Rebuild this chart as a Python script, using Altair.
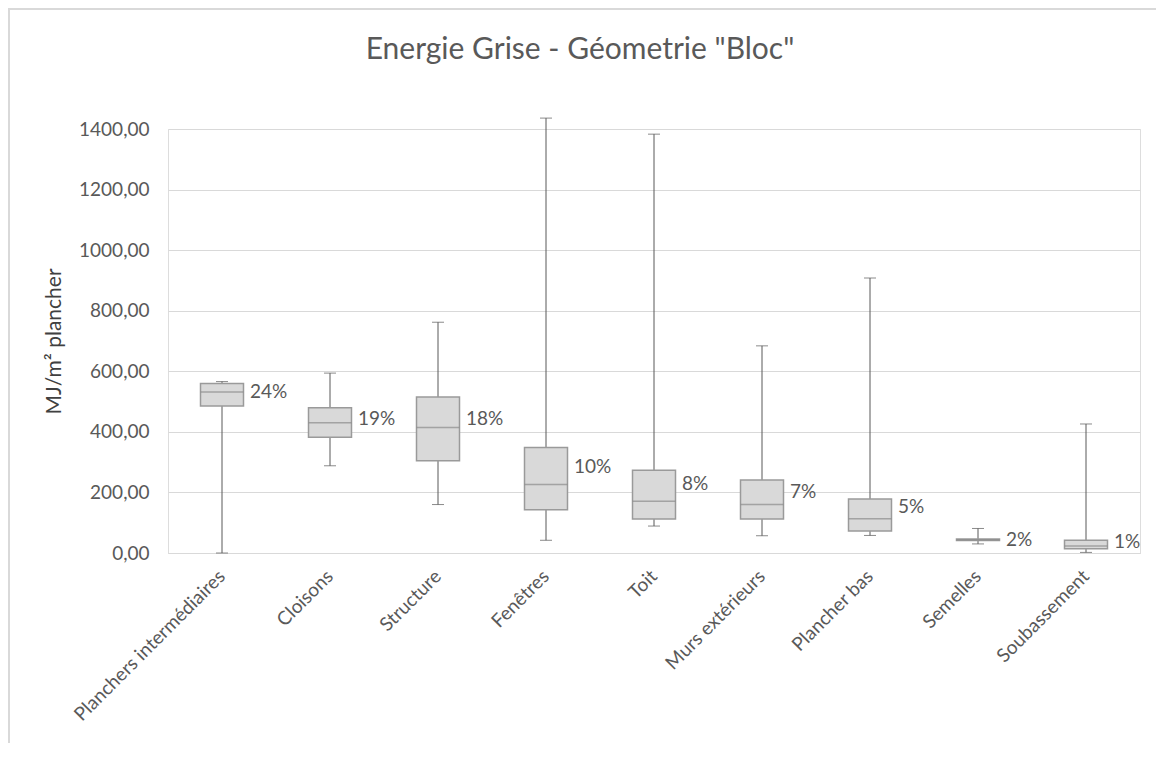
import altair as alt
import pandas as pd

categories = ["Planchers intermédiaires", "Cloisons", "Structure", "Fenêtres", "Toit",
              "Murs extérieurs", "Plancher bas", "Semelles", "Soubassement"]
mins = [0, 288, 160, 42, 89, 57, 58, 30, 2]
q1 = [485, 382, 305, 143, 112, 112, 73, 41, 14]
medians = [532, 430, 414, 226, 171, 160, 113, 44, 23]
q3 = [560, 480, 515, 348, 273, 241, 178, 46, 42]
maxs = [566, 594, 762, 1436, 1383, 684, 908, 81, 426]
shares = ["24%", "19%", "18%", "10%", "8%", "7%", "5%", "2%", "1%"]
label_at = [532, 442, 442, 285, 228, 202, 152, 43, 36]

df = pd.DataFrame({
    "cat": categories, "min": mins, "q1": q1, "med": medians,
    "q3": q3, "max": maxs, "share": shares, "lab": label_at,
})

FONT = "Lato"
x = alt.X("cat:N", sort=categories, title=None,
          scale=alt.Scale(paddingInner=0, paddingOuter=0),
          axis=alt.Axis(labelAngle=-45, labelAlign="right", labelBaseline="middle",
                        labelPadding=20, labelOffset=0, labelFontSize=19, labelFont=FONT,
                        labelColor="#595959", ticks=False, domainColor="#d9d9d9",
                        domainWidth=1, grid=False, labelLimit=400))
yscale = alt.Scale(domain=[0, 1400], nice=False)
yaxis = alt.Axis(values=[0, 200, 400, 600, 800, 1000, 1200, 1400],
                 labelExpr="replace(format(datum.value, '.2f'), '.', ',')",
                 labelFontSize=19, labelFont=FONT, labelColor="#595959", labelPadding=19,
                 ticks=False, domain=False, grid=True, gridColor="#d9d9d9", gridWidth=1,
                 title="MJ/m² plancher", titleFontSize=21, titleFont=FONT,
                 titleColor="#404040", titleFontWeight="normal", titlePadding=14)

base = alt.Chart(df)

whisker = base.mark_rule(color="#595959", strokeWidth=1).encode(
    x=x, y=alt.Y("min:Q", scale=yscale, axis=yaxis), y2="max:Q")
cap_lo = base.mark_tick(color="#595959", size=12, thickness=1, orient="horizontal").encode(
    x=x, y=alt.Y("min:Q"))
cap_hi = base.mark_tick(color="#595959", size=12, thickness=1, orient="horizontal").encode(
    x=x, y=alt.Y("max:Q"))
box = base.mark_bar(size=43, fill="#d9d9d9", stroke="#9a9a9a", strokeWidth=1.5).encode(
    x=x, y=alt.Y("q1:Q"), y2="q3:Q")
median = base.mark_tick(color="#8c8c8c", size=43, thickness=1.5, orient="horizontal").encode(
    x=x, y=alt.Y("med:Q"))
labels = base.mark_text(align="left", baseline="middle", dx=28, fontSize=19, font=FONT,
                        color="#595959").encode(x=x, y=alt.Y("lab:Q"), text="share:N")

frame_df = pd.DataFrame({"k": [0]})
border_top = alt.Chart(frame_df).mark_rule(color="#d9d9d9", strokeWidth=2).encode(
    x=alt.value(-160), x2=alt.value(1000), y=alt.value(-120))
border_left = alt.Chart(frame_df).mark_rule(color="#d9d9d9", strokeWidth=2).encode(
    x=alt.value(-159), y=alt.value(-121), y2=alt.value(700))

chart = alt.layer(border_top, border_left, whisker, cap_lo, cap_hi, box, median, labels).properties(
    width=972, height=424,
    title=alt.TitleParams('Energie Grise - Géometrie "Bloc"', fontSize=30, font=FONT,
                          color="#595959", fontWeight="normal", anchor="middle",
                          dx=-74, offset=-88, baseline="bottom"),
    autosize=alt.AutoSizeParams(type="none"),
    padding={"left": 160, "top": 121, "right": 16, "bottom": 190},
).configure_view(stroke=None).configure(background="white")

chart.save("out.html", embed_options={"renderer": "svg", "actions": False})
